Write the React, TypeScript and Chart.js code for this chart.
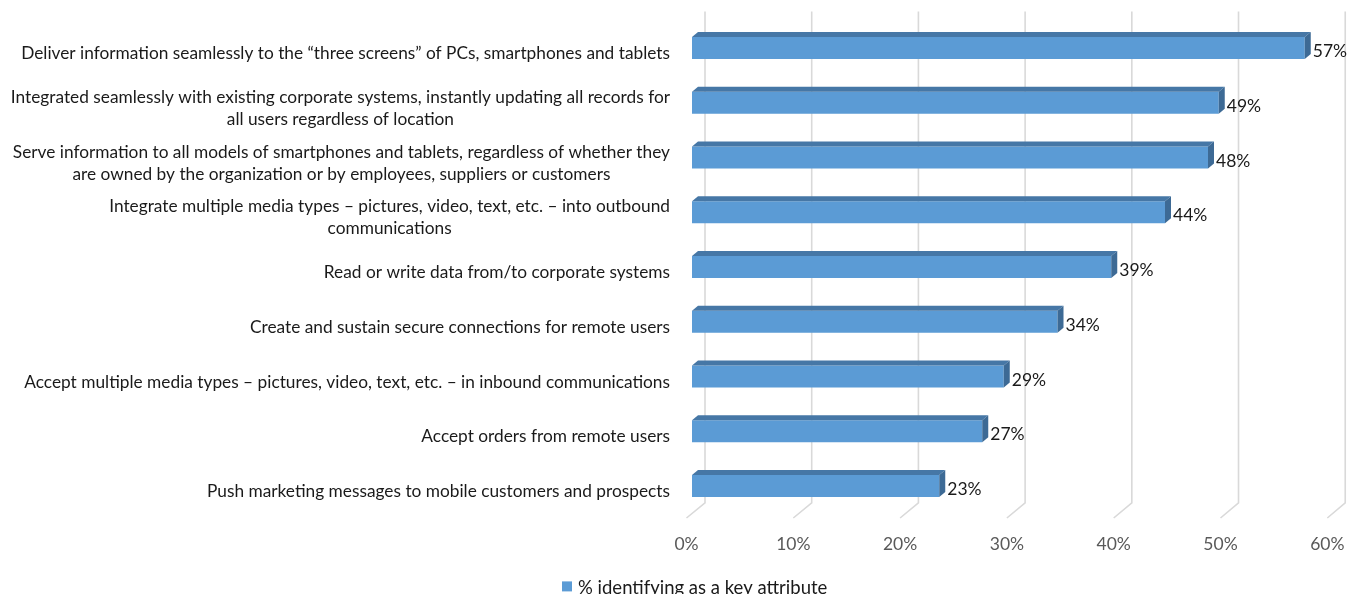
import React, { useEffect, useRef } from "react";
import { Chart, registerables } from "chart.js";

Chart.register(...registerables);

const categories: string[][] = [
  ["Deliver information seamlessly to the \u201cthree screens\u201d of PCs, smartphones and tablets"],
  ["Integrated seamlessly with existing corporate systems, instantly updating all records for", "all users regardless of location"],
  ["Serve information to all models of smartphones and tablets, regardless of whether they", "are owned by the organization or by employees, suppliers or customers"],
  ["Integrate multiple media types \u2013 pictures, video, text, etc. \u2013 into outbound", "communications"],
  ["Read or write data from/to corporate systems"],
  ["Create and sustain secure connections for remote users"],
  ["Accept multiple media types \u2013 pictures, video, text, etc. \u2013 in inbound communications"],
  ["Accept orders from remote users"],
  ["Push marketing messages to mobile customers and prospects"],
];

const seriesName = "% identifying as a key attribute";
const values: number[] = [57, 49, 48, 44, 39, 34, 29, 27, 23];
const tickValues: number[] = [0, 10, 20, 30, 40, 50, 60];

const FONT = "Lato, 'Open Sans', sans-serif";
const FRONT = "#5b9bd5";
const TOP = "#4677a6";
const SIDE = "#3d6a95";

const depthPlugin = {
  id: "depth3d",
  beforeDatasetsDraw(chart: any) {
    const { ctx, chartArea, scales } = chart;
    const x = scales.x;
    const L = chartArea.left;
    const backX = (v: number) => L + 13 + (x.getPixelForValue(v) - L) * 0.9926;
    const frontX = (v: number) => L - 5.5 + (x.getPixelForValue(v) - L) * 0.9935;
    const backTop = chartArea.top - 9;
    const backBottom = chartArea.bottom - 10.5;
    const floorFront = chartArea.bottom + 4.6;
    ctx.save();
    ctx.strokeStyle = "#d9d9d9";
    ctx.lineWidth = 1.6;
    tickValues.forEach((v) => {
      ctx.beginPath();
      ctx.moveTo(backX(v), backTop);
      ctx.lineTo(backX(v), backBottom);
      ctx.lineTo(frontX(v), floorFront);
      ctx.stroke();
    });
    ctx.fillStyle = "#595959";
    ctx.font = `17.5px ${FONT}`;
    ctx.textAlign = "center";
    ctx.textBaseline = "middle";
    tickValues.forEach((v) => {
      ctx.fillText(`${v}%`, frontX(v), chartArea.bottom + 31);
    });
    ctx.restore();
  },
  afterDatasetsDraw(chart: any) {
    const { ctx, chartArea, scales } = chart;
    const meta = chart.getDatasetMeta(0);
    const dx = 6;
    const dy = 5;
    ctx.save();
    meta.data.forEach((bar: any, i: number) => {
      const props = bar.getProps(["x", "y", "base", "height"], true);
      const x0 = props.base;
      const x1 = props.x;
      const top = props.y - props.height / 2;
      const bottom = props.y + props.height / 2;
      ctx.fillStyle = TOP;
      ctx.beginPath();
      ctx.moveTo(x0, top);
      ctx.lineTo(x0 + dx, top - dy);
      ctx.lineTo(x1 + dx, top - dy);
      ctx.lineTo(x1, top);
      ctx.closePath();
      ctx.fill();
      ctx.fillStyle = SIDE;
      ctx.beginPath();
      ctx.moveTo(x1, top);
      ctx.lineTo(x1 + dx, top - dy);
      ctx.lineTo(x1 + dx, bottom - dy);
      ctx.lineTo(x1, bottom);
      ctx.closePath();
      ctx.fill();
      ctx.fillStyle = "#1a1a1a";
      ctx.font = `17.5px ${FONT}`;
      ctx.textAlign = "left";
      ctx.textBaseline = "middle";
      ctx.fillText(`${values[i]}%`, x1 + dx + 2, props.y + 3.5);
    });

    const y = scales.y;
    ctx.font = `17.3px ${FONT}`;
    ctx.fillStyle = "#1a1a1a";
    ctx.textAlign = "center";
    ctx.textBaseline = "middle";
    const right = chartArea.left - 22;
    const lh = 22;
    categories.forEach((lines, i) => {
      const bw = Math.max(...lines.map((l) => ctx.measureText(l).width));
      const cx = right - bw / 2;
      const cy = y.getPixelForValue(i) + 5.5;
      const y0 = cy - ((lines.length - 1) * lh) / 2;
      lines.forEach((l, k) => ctx.fillText(l, cx, y0 + k * lh));
    });

    const lx = 562;
    const ly = chartArea.bottom + 73;
    ctx.fillStyle = FRONT;
    ctx.fillRect(lx, ly - 5, 10, 10);
    ctx.fillStyle = "#1a1a1a";
    ctx.font = `18.5px ${FONT}`;
    ctx.textAlign = "left";
    ctx.fillText(seriesName, lx + 16, ly + 1.5);
    ctx.restore();
  },
};

export default function App() {
  const ref = useRef<HTMLCanvasElement | null>(null);
  useEffect(() => {
    if (!ref.current) return;
    const chart = new Chart(ref.current, {
      type: "bar",
      data: {
        labels: categories,
        datasets: [
          {
            label: seriesName,
            data: values,
            backgroundColor: FRONT,
            borderWidth: 0,
            categoryPercentage: 0.402,
            barPercentage: 1,
          },
        ],
      },
      options: {
        indexAxis: "y",
        animation: false,
        responsive: true,
        maintainAspectRatio: false,
        layout: { padding: { left: 692, top: 20.6, right: 21, bottom: 80.6 } },
        plugins: { legend: { display: false }, tooltip: { enabled: false } },
        scales: {
          x: { display: false, min: 0, max: 60 },
          y: { display: false },
        },
      },
      plugins: [depthPlugin],
    });
    return () => chart.destroy();
  }, []);
  return (
    <div style={{ position: "fixed", left: 0, top: 0, width: 1358, height: 594, background: "#fff" }}>
      <canvas ref={ref} />
    </div>
  );
}
